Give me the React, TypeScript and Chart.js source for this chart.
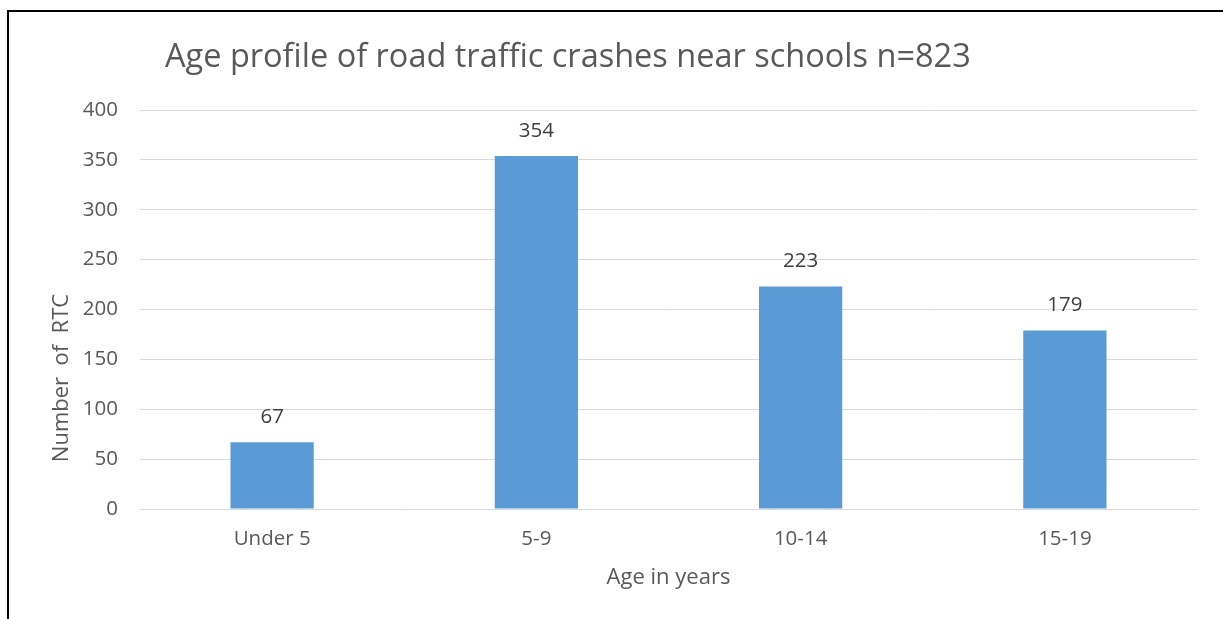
import React, { useEffect, useRef } from "react";
import { Chart, registerables } from "chart.js";

Chart.register(...registerables);

const chartTitle = "Age profile of road traffic crashes near schools n=823";
const categories = ["Under 5", "5-9", "10-14", "15-19"];
const crashCounts = [67, 354, 223, 179];
const yTitle = "Number  of  RTC";
const xTitle = "Age in years";
const yMax = 400;
const yStep = 50;

const FONT = "'Open Sans', Lato, sans-serif";
const TEXT = "#595959";

export default function App() {
  const ref = useRef<HTMLCanvasElement | null>(null);

  useEffect(() => {
    if (!ref.current) return;
    const labelPlugin = {
      id: "barLabels",
      afterDatasetsDraw(chart: any) {
        const ctx = chart.ctx;
        const meta = chart.getDatasetMeta(0);
        ctx.save();
        ctx.font = `20.5px ${FONT}`;
        ctx.fillStyle = "#404040";
        ctx.textAlign = "center";
        ctx.textBaseline = "middle";
        meta.data.forEach((bar: any, i: number) => {
          ctx.fillText(String(crashCounts[i]), bar.x, bar.y - 25);
        });
        ctx.restore();
      },
    };
    const titlePlugin = {
      id: "titles",
      afterDraw(chart: any) {
        const ctx = chart.ctx;
        ctx.save();
        ctx.fillStyle = TEXT;
        ctx.font = `32.5px ${FONT}`;
        ctx.textAlign = "left";
        ctx.textBaseline = "alphabetic";
        ctx.fillText(chartTitle, 165, 67);

        ctx.font = `22px ${FONT}`;
        ctx.textAlign = "center";
        ctx.textBaseline = "middle";
        const area = chart.chartArea;
        ctx.fillText(xTitle, (area.left + area.right) / 2, 578);

        ctx.translate(62, 378);
        ctx.rotate(-Math.PI / 2);
        ctx.fillText(yTitle, 0, 0);
        ctx.restore();
      },
    };
    const chart = new Chart(ref.current, {
      type: "bar",
      data: {
        labels: categories,
        datasets: [
          {
            data: crashCounts,
            backgroundColor: "#5B9BD5",
            borderWidth: 0,
            categoryPercentage: 1,
            barPercentage: 0.315,
          },
        ],
      },
      options: {
        animation: false,
        responsive: false,
        layout: { padding: { top: 110, right: 26, bottom: 10, left: 40 } },
        plugins: {
          legend: { display: false },
          tooltip: { enabled: false },
          title: { display: false },
        },
        scales: {
          x: {
            grid: { display: false, drawTicks: false },
            border: { display: true, color: "#d9d9d9", width: 1 },
            ticks: {
              color: TEXT,
              font: { family: FONT, size: 20.5 },
              padding: 18,
            },
            afterFit(scale: any) {
              scale.height = 100;
            },
          },
          y: {
            min: 0,
            max: yMax,
            grid: { color: "#d9d9d9", drawTicks: false, lineWidth: 1 },
            border: { display: false },
            ticks: {
              stepSize: yStep,
              color: TEXT,
              font: { family: FONT, size: 20.5 },
              padding: 22,
            },
            afterFit(scale: any) {
              scale.width = 100;
            },
          },
        },
      },
      plugins: [labelPlugin, titlePlugin],
    });
    return () => chart.destroy();
  }, []);

  return (
    <div
      style={{
        position: "fixed",
        left: 0,
        top: 0,
        width: 1223,
        height: 619,
        background: "#fff",
        overflow: "hidden",
      }}
    >
      <div
        style={{
          position: "absolute",
          left: 7,
          top: 10,
          width: 1300,
          height: 700,
          borderTop: "2px solid #000",
          borderLeft: "2px solid #000",
        }}
      />
      <canvas
        ref={ref}
        width={1223}
        height={619}
        style={{ position: "absolute", left: 0, top: 0 }}
      />
    </div>
  );
}
